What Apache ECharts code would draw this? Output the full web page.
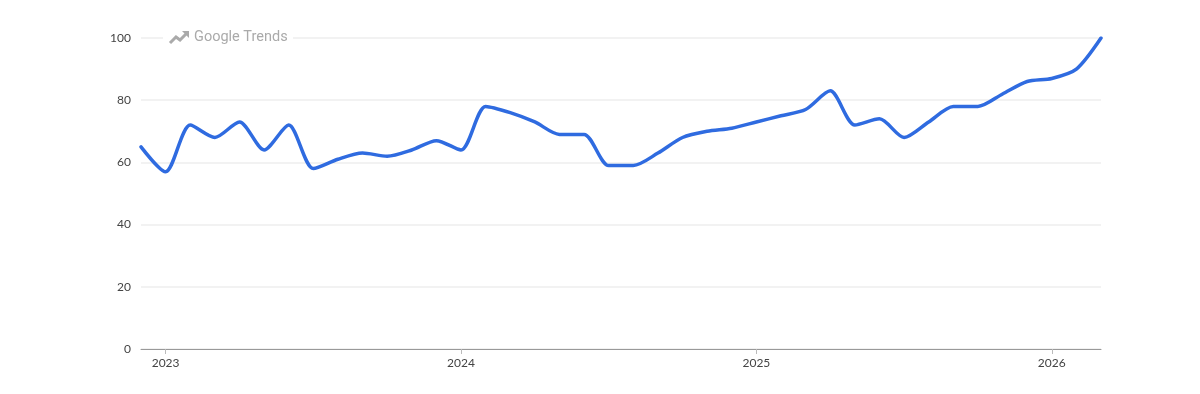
<!DOCTYPE html>
<html>
<head>
<meta charset="utf-8">
<script src="https://cdn.jsdelivr.net/npm/echarts@6/dist/echarts.min.js"></script>
<style>
html, body { margin: 0; padding: 0; background: #fff; }
#chart { width: 1200px; height: 394px; }
</style>
</head>
<body>
<div id="chart"></div>
<script>
// one point a month, Dec 2022 to Mar 2026
var months = [
    '2022-12',
    '2023-01', '2023-02', '2023-03', '2023-04', '2023-05', '2023-06',
    '2023-07', '2023-08', '2023-09', '2023-10', '2023-11', '2023-12',
    '2024-01', '2024-02', '2024-03', '2024-04', '2024-05', '2024-06',
    '2024-07', '2024-08', '2024-09', '2024-10', '2024-11', '2024-12',
    '2025-01', '2025-02', '2025-03', '2025-04', '2025-05', '2025-06',
    '2025-07', '2025-08', '2025-09', '2025-10', '2025-11', '2025-12',
    '2026-01', '2026-02', '2026-03'
];
var interest = [
    65,
    57, 72, 68, 73, 64, 72,
    58, 61, 63, 62, 64, 67,
    64, 78, 76, 73, 69, 69,
    59, 59, 63, 68, 70, 71,
    73, 75, 77, 83, 72, 74,
    68, 73, 78, 78, 82, 86,
    87, 90, 100
];
var yTicks = [0, 20, 40, 60, 80, 100];

function isJanuary(index, value) {
    return /-01$/.test(value);
}

var myChart = echarts.init(document.getElementById('chart'), null, { renderer: 'canvas' });
var option = {
    animation: false,
    backgroundColor: '#fff',
    textStyle: { fontFamily: 'Lato, Inter, sans-serif' },
    grid: { left: 141, right: 99, top: 38, bottom: 45 },
    xAxis: {
        type: 'category',
        boundaryGap: false,
        data: months,
        axisLine: { lineStyle: { color: '#999', width: 1 } },
        axisTick: { interval: isJanuary, length: 5, lineStyle: { color: '#bbb' } },
        axisLabel: {
            interval: isJanuary,
            color: '#444',
            fontSize: 12,
            margin: 8,
            formatter: function (v) { return v.slice(0, 4); }
        },
        splitLine: { show: false }
    },
    yAxis: {
        type: 'value',
        min: yTicks[0],
        max: yTicks[yTicks.length - 1],
        interval: 20,
        axisLine: { show: false },
        axisTick: { show: false },
        axisLabel: { color: '#444', fontSize: 12, margin: 10, padding: [2, 0, 0, 0] },
        splitLine: { lineStyle: { color: '#eeeeee', width: 1.5 } }
    },
    series: [{
        type: 'line',
        data: interest,
        smooth: 0.27,
        showSymbol: false,
        lineStyle: { color: '#2f6be0', width: 3.5, cap: 'round', join: 'round' }
    }],
    // watermark sits on the top gridline
    graphic: [
        { type: 'rect', left: 163, top: 28, shape: { width: 130, height: 20 }, style: { fill: '#fff' }, z: 10 },
        {
            type: 'polyline',
            z: 11,
            shape: { points: [[170, 43], [176, 37], [180, 40], [187, 33]] },
            style: { stroke: '#aaa', lineWidth: 3, fill: null }
        },
        {
            type: 'polygon',
            z: 11,
            shape: { points: [[182, 31], [189, 31], [189, 38]] },
            style: { fill: '#aaa' }
        },
        {
            type: 'text',
            z: 11,
            left: 194,
            top: 30,
            style: { text: 'Google Trends', fill: '#aaa', font: '400 14.5px Roboto, sans-serif' }
        }
    ]
};
myChart.setOption(option);
</script>
</body>
</html>
